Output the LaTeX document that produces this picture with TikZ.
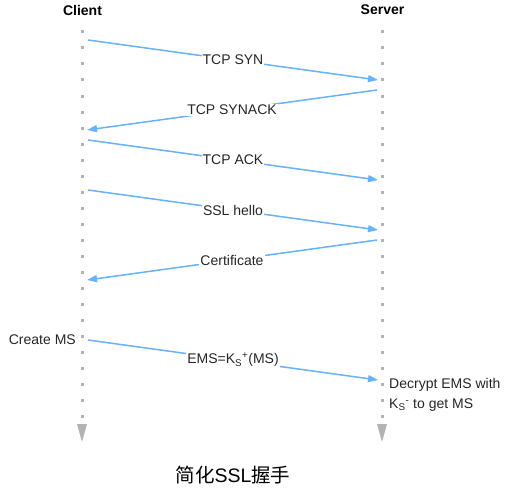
\documentclass[tikz,border=0pt]{standalone}
\usepackage{fontspec}
\setmainfont{Liberation Sans}
\newfontfamily\cjk{Noto Sans CJK SC}
\usepackage{xcolor}
\definecolor{msgBlue}{HTML}{66B2FF}
\definecolor{lifeGray}{HTML}{B3B3B3}
\usetikzlibrary{arrows.meta, positioning}
\tikzset{
	actor/.style={font=\fontsize{14}{16}\selectfont\bfseries},
	lifeline/.style={draw=lifeGray, line width=3pt, dash pattern=on 3pt off 13pt},
	msgarr/.style={-{Triangle[length=10pt,width=7pt]}, draw=msgBlue, line width=1.5pt},
	msglabel/.style={fill=white, inner sep=1pt, font=\fontsize{14}{16}\selectfont, text=black!85},
	note/.style={font=\fontsize{14}{20}\selectfont, align=left, inner sep=0pt, text=black!85},
}

\begin{document}
\begin{tikzpicture}[x=1pt, y=-1pt]
	\useasboundingbox (0,0) rectangle (510,492);
	\node[actor] (client) at (82.5,10) {Client};
	\node[actor] (server) at (382.5,10) {Server};
	% lifelines
	\foreach \x in {82,382} {
		\draw[lifeline] (\x,30.5) -- (\x,418);
		\fill[lifeGray] (\x-5,424) -- (\x+5,424) -- (\x,442) -- cycle;
	}
	% message ends
	\coordinate (c1) at (88,40);   \coordinate (s1) at (378,80);
	\coordinate (s2) at (377,90);  \coordinate (c2) at (87,130);
	\coordinate (c3) at (88,140);  \coordinate (s3) at (378,180);
	\coordinate (c4) at (88,190);  \coordinate (s4) at (378,230);
	\coordinate (s5) at (377,240); \coordinate (c5) at (87,280);
	\coordinate (c6) at (88,340);  \coordinate (s6) at (378,380);
	\draw[msgarr] (c1) -- node[msglabel] {TCP SYN} (s1);
	\draw[msgarr] (s2) -- node[msglabel] {TCP SYNACK} (c2);
	\draw[msgarr] (c3) -- node[msglabel] {TCP ACK} (s3);
	\draw[msgarr] (c4) -- node[msglabel] {SSL hello} (s4);
	\draw[msgarr] (s5) -- node[msglabel] {Certificate} (c5);
	\draw[msgarr] (c6) -- node[msglabel] {EMS=K\textsubscript{S}\textsuperscript{+}(MS)} (s6);
	\node[note, anchor=east] (create) at (76,340) {Create MS};
	\node[note, anchor=west] (decrypt) at (389,395) {Decrypt EMS with\\K\textsubscript{S}\textsuperscript{-} to get MS};
	\node[font=\fontsize{19.5}{22}\selectfont] (title) at (233,475) {{\cjk 简化}SSL{\cjk 握手}};
\end{tikzpicture}
\end{document}
